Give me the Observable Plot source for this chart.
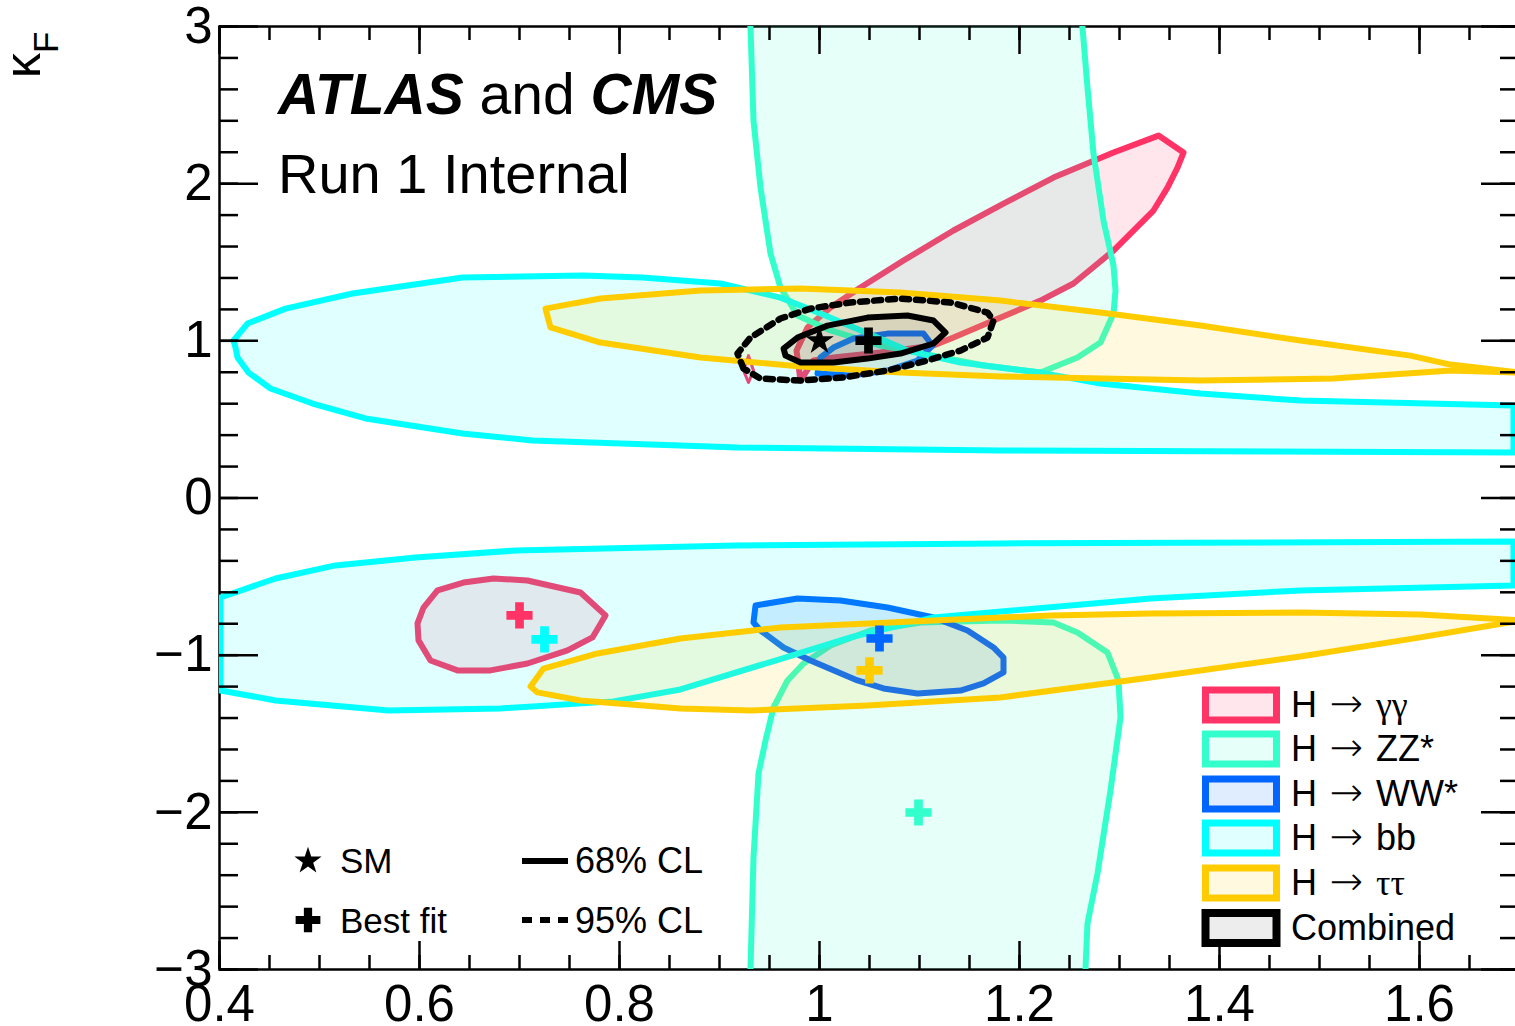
<!DOCTYPE html>
<html><head><meta charset="utf-8">
<script src="https://cdn.jsdelivr.net/npm/d3@7"></script>
<script src="https://cdn.jsdelivr.net/npm/@observablehq/plot@0.6"></script>
<style>
body{margin:0;background:#fff;}
#wrap{position:relative;width:1515px;height:1026px;overflow:hidden;font-family:"Liberation Sans",Arial,Helvetica,sans-serif;}
#wrap svg{position:absolute;left:0;top:0;}
</style></head><body><div id="wrap"></div>
<script>
// ---- data: contours in (kappa_V, kappa_F) ----
const ggUpper = [[1.339,2.306],[1.364,2.198],[1.358,2.102],[1.348,1.975],[1.334,1.829],[1.294,1.574],[1.254,1.365],[1.221,1.256],[1.174,1.129],[1.134,1.021],[1.114,0.970],[1.061,0.926],[1.014,0.894],[0.994,0.875],[0.981,0.747],[0.977,0.938],[0.988,1.085],[1.011,1.212],[1.041,1.339],[1.084,1.511],[1.134,1.702],[1.184,1.873],[1.234,2.039],[1.294,2.198]];
const ggSpike = [[0.929,0.906],[0.934,0.811],[0.929,0.735],[0.924,0.811]];
const ggLower = [[0.604,-0.697],[0.618,-0.588],[0.644,-0.538],[0.674,-0.512],[0.708,-0.525],[0.761,-0.601],[0.786,-0.747],[0.773,-0.887],[0.748,-0.970],[0.708,-1.053],[0.671,-1.097],[0.638,-1.097],[0.611,-1.034],[0.599,-0.906],[0.598,-0.798]];
const zzUpper = [[0.929,3.1],[0.931,2.993],[0.934,2.401],[0.941,1.975],[0.951,1.555],[0.961,1.339],[0.978,1.161],[1.011,1.066],[1.061,0.970],[1.114,0.906],[1.164,0.843],[1.221,0.798],[1.258,0.894],[1.281,0.989],[1.294,1.174],[1.296,1.320],[1.294,1.479],[1.284,1.765],[1.274,2.191],[1.268,2.611],[1.263,2.993],[1.262,3.1]];
const zzLower = [[0.929,-3.1],[0.931,-2.993],[0.934,-2.287],[0.939,-1.753],[0.946,-1.543],[0.954,-1.333],[0.968,-1.161],[0.984,-1.053],[1.011,-0.938],[1.051,-0.843],[1.101,-0.792],[1.181,-0.779],[1.234,-0.792],[1.258,-0.856],[1.288,-0.983],[1.299,-1.161],[1.301,-1.396],[1.291,-1.861],[1.278,-2.389],[1.268,-2.707],[1.266,-2.993],[1.266,-3.1]];
const wwUpper = [[0.998,0.792],[1.001,0.894],[1.014,0.957],[1.034,1.015],[1.068,1.046],[1.104,1.046],[1.113,0.970],[1.098,0.875],[1.068,0.811],[1.031,0.779]];
const wwLower = [[0.936,-0.684],[0.978,-0.639],[1.021,-0.652],[1.068,-0.697],[1.114,-0.760],[1.148,-0.843],[1.174,-0.951],[1.184,-1.015],[1.184,-1.110],[1.164,-1.180],[1.141,-1.225],[1.098,-1.244],[1.064,-1.212],[1.038,-1.161],[0.991,-1.034],[0.964,-0.951],[0.941,-0.843],[0.934,-0.792]];
const bbUpper = [[0.414,1.002],[0.428,1.110],[0.466,1.205],[0.533,1.301],[0.643,1.403],[0.763,1.415],[0.823,1.403],[0.901,1.365],[0.961,1.275],[1.001,1.174],[1.058,1.021],[1.088,0.938],[1.141,0.862],[1.181,0.830],[1.221,0.798],[1.281,0.728],[1.381,0.665],[1.481,0.620],[1.694,0.588],[1.694,0.290],[1.181,0.302],[0.919,0.321],[0.713,0.366],[0.643,0.410],[0.546,0.506],[0.493,0.601],[0.451,0.697],[0.429,0.798],[0.418,0.894],[0.416,0.957]];
const bbLower = [[0.401,-0.633],[0.456,-0.512],[0.516,-0.429],[0.596,-0.378],[0.696,-0.334],[0.916,-0.302],[1.181,-0.289],[1.694,-0.277],[1.694,-0.557],[1.481,-0.588],[1.331,-0.639],[1.114,-0.760],[1.031,-0.887],[0.956,-1.034],[0.861,-1.218],[0.794,-1.294],[0.681,-1.339],[0.569,-1.352],[0.456,-1.288],[0.401,-1.225]];
const ttUpper = [[0.726,1.205],[0.781,1.269],[0.881,1.320],[0.981,1.333],[1.081,1.307],[1.181,1.256],[1.281,1.180],[1.381,1.097],[1.481,1.002],[1.591,0.906],[1.631,0.849],[1.701,0.798],[1.631,0.811],[1.514,0.760],[1.381,0.747],[1.181,0.773],[1.081,0.798],[0.981,0.837],[0.881,0.894],[0.781,0.989],[0.731,1.085]];
const ttLower = [[0.711,-1.199],[0.724,-1.085],[0.778,-0.989],[0.861,-0.894],[0.961,-0.824],[1.114,-0.779],[1.231,-0.747],[1.331,-0.735],[1.481,-0.728],[1.601,-0.741],[1.701,-0.779],[1.601,-0.887],[1.481,-1.008],[1.331,-1.142],[1.181,-1.269],[1.048,-1.320],[0.931,-1.352],[0.861,-1.339],[0.761,-1.288],[0.718,-1.237]];
const comb68 = [[0.964,0.951],[0.978,1.021],[1.008,1.097],[1.048,1.148],[1.088,1.161],[1.114,1.129],[1.126,1.053],[1.114,0.983],[1.081,0.919],[1.048,0.887],[1.014,0.862],[0.981,0.862],[0.966,0.906]];
const comb95 = [[0.924,0.824],[0.918,0.919],[0.931,1.021],[0.961,1.142],[0.991,1.205],[1.031,1.244],[1.081,1.269],[1.131,1.244],[1.168,1.180],[1.174,1.129],[1.168,1.021],[1.141,0.938],[1.108,0.875],[1.068,0.811],[1.024,0.767],[0.981,0.747],[0.941,0.760]];
const bestFit = [
  {ch:"comb", x:1.049, y:1.002},
  {ch:"gg", x:0.700, y:-0.747},
  {ch:"bb", x:0.725, y:-0.900},
  {ch:"ww", x:1.060, y:-0.894},
  {ch:"tt", x:1.050, y:-1.097},
  {ch:"zz", x:1.099, y:-2.001}
];
const smPoint = [{x:1, y:1}];
const xTickLabels = [0.4,0.6,0.8,1,1.2,1.4,1.6];
const yTickLabels = [-3,-2,-1,0,1,2,3];
const legendLabels = [
  {ch:"gg", head:"H", tail:"\u03b3\u03b3", greek:true},
  {ch:"zz", head:"H", tail:"ZZ*", greek:false},
  {ch:"ww", head:"H", tail:"WW*", greek:false},
  {ch:"bb", head:"H", tail:"bb", greek:false},
  {ch:"tt", head:"H", tail:"\u03c4\u03c4", greek:true},
  {ch:"comb", head:"Combined", tail:null, greek:false}
];

// ---- style ----
const col = {gg:"#ff3366", zz:"#33ffcc", ww:"#0066ff", bb:"#00ffff", tt:"#ffcc00", comb:"#000000"};
const FONT = "'Liberation Sans', Arial, Helvetica, sans-serif";
const SERIF = "'Liberation Serif', 'DejaVu Serif', serif";
const W = 1515, H = 1026, mL = 219, mR = -4, mT = 26, mB = 57;
const pw = W - mL - mR, ph = H - mT - mB;

function contour(pts, key, extra = {}) {
  return Plot.line(pts, {
    x: d => d[0], y: d => d[1], curve: "linear-closed",
    fill: col[key], fillOpacity: key === "comb" ? 0.07 : 0.12,
    stroke: col[key], strokeWidth: 6, strokeLinejoin: "round", clip: true, ...extra
  });
}

const xMinor = d3.range(0.4, 1.7001, 0.05).map(v => +v.toFixed(2));
const xMajor = xMinor.filter(v => Math.abs(Math.round(v * 5) - v * 5) < 1e-6);
const yMinor = d3.range(-3, 3.0001, 0.2).map(v => +v.toFixed(1));
const yMajor = yMinor.filter(v => Math.abs(Math.round(v) - v) < 1e-6);
const tk = {stroke: "black", strokeWidth: 2.5};

const chart = Plot.plot({
  width: W, height: H, marginLeft: mL, marginRight: mR, marginTop: mT, marginBottom: mB,
  x: {domain: [0.4, 1.7]},
  y: {domain: [-3, 3]},
  color: {type: "identity"},
  style: {fontFamily: FONT, background: "transparent", color: "black"},
  marks: [
    Plot.frame({stroke: "black", strokeWidth: 2.5}),
    contour(ggUpper, "gg"), contour(ggSpike, "gg", {strokeWidth: 3}), contour(ggLower, "gg"),
    contour(zzUpper, "zz"), contour(zzLower, "zz"),
    contour(wwUpper, "ww"), contour(wwLower, "ww"),
    contour(bbUpper, "bb"), contour(bbLower, "bb"),
    contour(ttUpper, "tt"), contour(ttLower, "tt"),
    Plot.line(comb95, {x: d => d[0], y: d => d[1], curve: "linear-closed", fill: "none", stroke: "black", strokeWidth: 6.5, strokeDasharray: "7,7", clip: true}),
    contour(comb68, "comb", {strokeWidth: 6}),
    Plot.dot(bestFit, {x: "x", y: "y", symbol: "cross", r: 11, fill: d => col[d.ch], stroke: null}),
    Plot.dot(smPoint, {x: "x", y: "y", symbol: "star", r: 9, fill: "black", stroke: null}),
    // ticks (inside, all four sides)
    Plot.tickX(xMinor, {x: d => d, insetTop: ph - 14, ...tk}),
    Plot.tickX(xMajor, {x: d => d, insetTop: ph - 28, ...tk}),
    Plot.tickX(xMinor, {x: d => d, insetBottom: ph - 14, ...tk}),
    Plot.tickX(xMajor, {x: d => d, insetBottom: ph - 28, ...tk}),
    Plot.tickY(yMinor, {y: d => d, insetRight: pw - 19, ...tk}),
    Plot.tickY(yMajor, {y: d => d, insetRight: pw - 39, ...tk}),
    Plot.tickY(yMinor, {y: d => d, insetLeft: pw - 19, ...tk}),
    Plot.tickY(yMajor, {y: d => d, insetLeft: pw - 38, ...tk}),
    Plot.axisX({ticks: xTickLabels, tickSize: 0, tickPadding: 15, fontSize: 51, label: null, tickFormat: d => String(d)}),
    Plot.axisY({ticks: yTickLabels, tickSize: 0, tickPadding: 7, fontSize: 51, label: null, tickFormat: d => d < 0 ? "\u2212" + (-d) : String(d)})
  ]
});
document.getElementById("wrap").appendChild(chart);

// ---- overlay: y title, annotations, legends ----
const ov = d3.select("#wrap").append("svg").attr("width", W).attr("height", H)
  .style("font-family", FONT).style("pointer-events", "none");

const yt = ov.append("text").attr("transform", "translate(40,78) rotate(-90)").attr("font-size", 50);
yt.append("tspan").text("\u03ba");
yt.append("tspan").attr("font-size", 35).attr("dy", 18).text("F");

const t1 = ov.append("text").attr("x", 278).attr("y", 114).attr("font-size", 57);
t1.append("tspan").attr("font-weight", "bold").attr("font-style", "italic").text("ATLAS");
t1.append("tspan").text(" and ");
t1.append("tspan").attr("font-weight", "bold").attr("font-style", "italic").text("CMS");
ov.append("text").attr("x", 278).attr("y", 193).attr("font-size", 56).text("Run 1 Internal");

// lower-left key
ov.append("path").attr("d", d3.symbol(d3.symbolStar, 230)()).attr("transform", "translate(308,861)").attr("fill", "black");
ov.append("text").attr("x", 340).attr("y", 873).attr("font-size", 35).text("SM");
ov.append("path").attr("d", d3.symbol(d3.symbolCross, 340)()).attr("transform", "translate(308,920)").attr("fill", "black");
ov.append("text").attr("x", 340).attr("y", 933).attr("font-size", 35).text("Best fit");
ov.append("line").attr("x1", 522).attr("x2", 568).attr("y1", 861).attr("y2", 861).attr("stroke", "black").attr("stroke-width", 6);
ov.append("text").attr("x", 575).attr("y", 873).attr("font-size", 36).text("68% CL");
ov.append("line").attr("x1", 522).attr("x2", 568).attr("y1", 920).attr("y2", 920).attr("stroke", "black").attr("stroke-width", 6).attr("stroke-dasharray", "10,8");
ov.append("text").attr("x", 575).attr("y", 933).attr("font-size", 36).text("95% CL");

// channel legend
const rowY = [705, 749, 794, 838, 883, 928];
legendLabels.forEach((d, i) => {
  const cy = rowY[i];
  ov.append("rect").attr("x", 1205.5).attr("y", cy - 15).attr("width", 71).attr("height", 30)
    .attr("fill", col[d.ch]).attr("fill-opacity", d.ch === "comb" ? 0.07 : 0.12)
    .attr("stroke", col[d.ch]).attr("stroke-width", d.ch === "comb" ? 8 : 7);
  const t = ov.append("text").attr("x", 1291).attr("y", cy + 12).attr("font-size", 36);
  t.append("tspan").text(d.head);
  if (d.tail !== null) {
    t.append("tspan").attr("font-family", "'DejaVu Sans', sans-serif").attr("font-size", 40).attr("font-weight", 200).text(" \u2192 ");
    const tail = t.append("tspan").text(d.tail);
    if (d.greek) tail.attr("font-family", SERIF);
  }
});
</script></body></html>
